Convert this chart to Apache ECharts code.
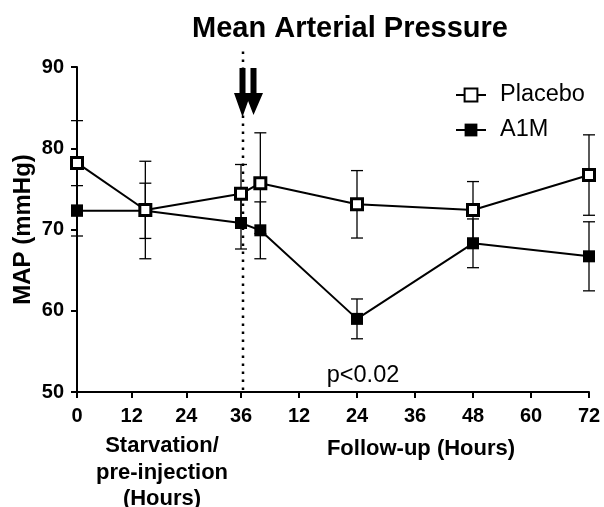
<!DOCTYPE html>
<html>
<head>
<meta charset="utf-8">
<script src="https://cdn.jsdelivr.net/npm/echarts@6/dist/echarts.min.js"></script>
<style>
  html, body { margin: 0; padding: 0; background: #fff; }
  #chart { width: 604px; height: 507px; }
</style>
</head>
<body>
<div id="chart"></div>
<script>
// ---- data ----
const preHours = [0, 15, 36];            // starvation / pre-injection time (h)
const followHours = [4, 24, 48, 72];     // follow-up time (h)
const preTicks = [0, 12, 24, 36];
const followTicks = [12, 24, 36, 48, 60, 72];

const placeboPre = [78.2, 72.4, 74.4];
const placeboPreSD = [5.2, 6.0, 3.6];
const a1mPre = [72.3, 72.3, 70.8];
const a1mPreSD = [3.1, 3.4, 3.2];

const placeboFollow = [75.7, 73.1, 72.4, 76.7];
const placeboFollowSD = [6.2, 4.15, 3.5, 4.95];
const a1mFollow = [69.9, 59.0, 68.3, 66.7];
const a1mFollowSD = [3.5, 2.45, 3.0, 4.25];

const yTicks = [50, 60, 70, 80, 90];
const injection = [[0, 50, 91.9]];       // injection time (follow-up 0), dotted line span
const FONT = 'Liberation Sans, Arial, sans-serif';

// ---- helpers ----
function pairs(xs, ys) { return xs.map((x, i) => [x, ys[i]]); }
function errData(xs, ys, sd) { return xs.map((x, i) => [x, ys[i] - sd[i], ys[i] + sd[i]]); }
// follow-up line starts at the last pre-injection value (injection time = follow-up 0)
function followLine(preVals, follVals) {
  return [{ value: [0, preVals[preVals.length - 1]], symbol: 'none' }].concat(pairs(followHours, follVals));
}
function renderErr(params, api) {
  const x = api.value(0), lo = api.value(1), hi = api.value(2);
  const a = api.coord([x, hi]), b = api.coord([x, lo]);
  const w = 6;
  const st = { stroke: '#000', lineWidth: 1.3 };
  return {
    type: 'group',
    children: [
      { type: 'line', shape: { x1: a[0], y1: a[1], x2: b[0], y2: b[1] }, style: st },
      { type: 'line', shape: { x1: a[0] - w, y1: a[1], x2: a[0] + w, y2: a[1] }, style: st },
      { type: 'line', shape: { x1: b[0] - w, y1: b[1], x2: b[0] + w, y2: b[1] }, style: st }
    ]
  };
}
function renderDotted(params, api) {
  const x = api.value(0);
  const a = api.coord([x, api.value(2)]), b = api.coord([x, api.value(1)]);
  return { type: 'line', shape: { x1: a[0] + 2, y1: a[1], x2: b[0] + 2, y2: b[1] },
    style: { stroke: '#000', lineWidth: 2.5, lineDash: [2.5, 5.5] } };
}

const chart = echarts.init(document.getElementById('chart'), null, { renderer: 'canvas' });

const axisLineStyle = { lineStyle: { color: '#000', width: 2 } };
const tickStyle = { show: true, length: 6, lineStyle: { color: '#000', width: 2 } };
const labelStyle = { color: '#000', fontFamily: FONT, fontWeight: 'bold', fontSize: 20 };

const placeboLine = {
  type: 'line', symbol: 'rect', symbolSize: 11,
  itemStyle: { color: '#fff', borderColor: '#000', borderWidth: 3 },
  lineStyle: { color: '#000', width: 2 }, z: 5
};
const a1mLine = {
  type: 'line', symbol: 'rect', symbolSize: 12,
  itemStyle: { color: '#000', borderColor: '#000', borderWidth: 0 },
  lineStyle: { color: '#000', width: 2 }, z: 4
};

const option = {
  animation: false,
  backgroundColor: '#fff',
  title: [
    { text: 'Mean Arterial Pressure', left: 345, top: 9, textAlign: 'center',
      textStyle: { fontFamily: FONT, fontWeight: 'bold', fontSize: 29, color: '#000' } },
    { text: 'Starvation/\npre-injection\n(Hours)', left: 157, top: 428, textAlign: 'center',
      textStyle: { fontFamily: FONT, fontWeight: 'bold', fontSize: 22, lineHeight: 26.5, color: '#000' } },
    { text: 'Follow-up (Hours)', left: 416, top: 433, textAlign: 'center',
      textStyle: { fontFamily: FONT, fontWeight: 'bold', fontSize: 22, color: '#000' } },
    { text: 'p<0.02', left: 358, top: 359, textAlign: 'center',
      textStyle: { fontFamily: FONT, fontWeight: 'normal', fontSize: 23.5, color: '#000' } }
  ],
  legend: {
    orient: 'vertical', left: 450, top: 78,
    itemWidth: 30, itemHeight: 16, itemGap: 11,
    data: ['Placebo', 'A1M'],
    textStyle: { fontFamily: FONT, fontSize: 23.5, color: '#000', lineHeight: 23, padding: [0, 0, 0, 9] }
  },
  grid: [
    { left: 77, top: 67, width: 164, height: 325 },
    { left: 241, top: 67, width: 348, height: 325 }
  ],
  xAxis: [
    { type: 'value', gridIndex: 0, min: preTicks[0], max: preTicks[preTicks.length - 1], interval: 12,
      axisLine: axisLineStyle, axisTick: tickStyle, splitLine: { show: false },
      axisLabel: Object.assign({ margin: 14 }, labelStyle) },
    { type: 'value', gridIndex: 1, min: 0, max: followTicks[followTicks.length - 1], interval: 12,
      axisLine: axisLineStyle, axisTick: tickStyle, splitLine: { show: false },
      axisLabel: Object.assign({ margin: 14, formatter: v => (followTicks.indexOf(v) >= 0 ? String(v) : '') }, labelStyle) }
  ],
  yAxis: [
    { type: 'value', gridIndex: 0, min: yTicks[0], max: yTicks[yTicks.length - 1], interval: 10,
      axisLine: { show: true, lineStyle: { color: '#000', width: 2 } }, axisTick: tickStyle, splitLine: { show: false },
      axisLabel: Object.assign({ margin: 13 }, labelStyle),
      name: 'MAP (mmHg)', nameLocation: 'middle', nameGap: 42, nameRotate: 90,
      nameTextStyle: { fontFamily: FONT, fontWeight: 'bold', fontSize: 24, color: '#000' } },
    { type: 'value', gridIndex: 1, min: yTicks[0], max: yTicks[yTicks.length - 1], interval: 10, show: false }
  ],
  series: [
    { type: 'custom', name: 'injection', xAxisIndex: 1, yAxisIndex: 1, renderItem: renderDotted, z: 1,
      encode: { x: 0, y: [1, 2] }, data: injection },
    { type: 'custom', name: 'errP0', xAxisIndex: 0, yAxisIndex: 0, renderItem: renderErr, z: 2,
      encode: { x: 0, y: [1, 2] }, data: errData(preHours, placeboPre, placeboPreSD) },
    { type: 'custom', name: 'errA0', xAxisIndex: 0, yAxisIndex: 0, renderItem: renderErr, z: 2,
      encode: { x: 0, y: [1, 2] }, data: errData(preHours, a1mPre, a1mPreSD) },
    { type: 'custom', name: 'errP1', xAxisIndex: 1, yAxisIndex: 1, renderItem: renderErr, z: 2,
      encode: { x: 0, y: [1, 2] }, data: errData(followHours, placeboFollow, placeboFollowSD) },
    { type: 'custom', name: 'errA1', xAxisIndex: 1, yAxisIndex: 1, renderItem: renderErr, z: 2,
      encode: { x: 0, y: [1, 2] }, data: errData(followHours, a1mFollow, a1mFollowSD) },

    Object.assign({}, a1mLine, { name: 'A1M', xAxisIndex: 0, yAxisIndex: 0, data: pairs(preHours, a1mPre) }),
    Object.assign({}, a1mLine, { name: 'A1M', xAxisIndex: 1, yAxisIndex: 1, data: followLine(a1mPre, a1mFollow) }),
    Object.assign({}, placeboLine, { name: 'Placebo', xAxisIndex: 0, yAxisIndex: 0, data: pairs(preHours, placeboPre) }),
    Object.assign({}, placeboLine, { name: 'Placebo', xAxisIndex: 1, yAxisIndex: 1, data: followLine(placeboPre, placeboFollow) })
  ],
  graphic: [
    { type: 'polygon', z: 10,
      shape: { points: [[239.5, 68], [245.5, 68], [245.5, 93], [251, 93], [242.5, 117], [234, 93], [239.5, 93]] },
      style: { fill: '#000' } },
    { type: 'polygon', z: 10,
      shape: { points: [[250.5, 68], [256.5, 68], [256.5, 93], [263, 93], [253.5, 115], [245, 93], [250.5, 93]] },
      style: { fill: '#000' } }
  ]
};
chart.setOption(option);
</script>
</body>
</html>
